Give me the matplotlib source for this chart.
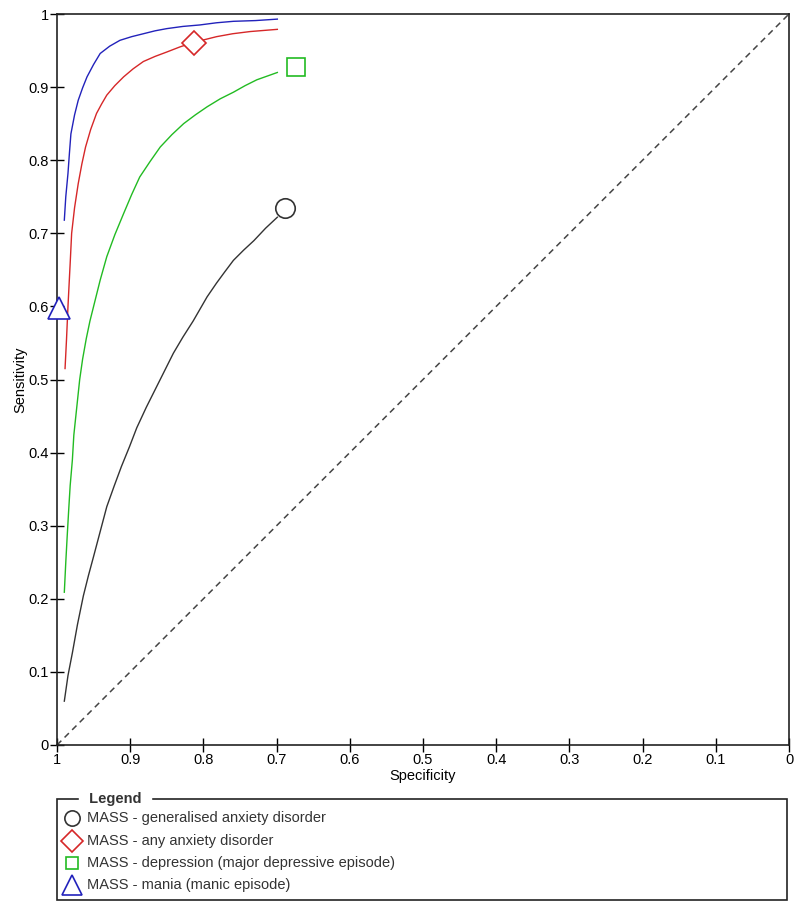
## SROC curves - MASS subscales
import numpy as np
import matplotlib.pyplot as plt
from matplotlib.patches import Rectangle
from matplotlib.lines import Line2D

plt.rcParams['font.family'] = ['Liberation Sans', 'DejaVu Sans']

# Curves (specificity, sensitivity)
gad_spec = [0.99, 0.985, 0.979, 0.972, 0.964, 0.957, 0.95, 0.941, 0.932, 0.922, 0.912, 0.901, 0.891,
            0.878, 0.864, 0.852, 0.841, 0.828, 0.814, 0.795, 0.782, 0.771, 0.759, 0.745, 0.731, 0.715, 0.699]
gad_sens = [0.06, 0.095, 0.126, 0.165, 0.204, 0.232, 0.258, 0.292, 0.326, 0.354, 0.381, 0.408, 0.434,
            0.462, 0.49, 0.514, 0.536, 0.558, 0.58, 0.613, 0.632, 0.647, 0.663, 0.677, 0.69, 0.707, 0.722]

anx_spec = [0.989, 0.987, 0.985, 0.982, 0.980, 0.976, 0.971, 0.966, 0.961, 0.954, 0.946, 0.939, 0.932,
            0.921, 0.909, 0.896, 0.882, 0.866, 0.850, 0.832, 0.814, 0.782, 0.760, 0.736, 0.699]
anx_sens = [0.515, 0.555, 0.600, 0.659, 0.700, 0.735, 0.768, 0.795, 0.818, 0.842, 0.864, 0.877, 0.889,
            0.902, 0.914, 0.925, 0.935, 0.942, 0.948, 0.955, 0.961, 0.969, 0.973, 0.976, 0.979]

dep_spec = [0.99, 0.988, 0.986, 0.984, 0.982, 0.979, 0.977, 0.973, 0.969, 0.965, 0.960, 0.955, 0.95,
            0.941, 0.932, 0.921, 0.909, 0.898, 0.887, 0.873, 0.859, 0.843, 0.827, 0.811, 0.795,
            0.777, 0.759, 0.743, 0.727, 0.713, 0.699]
dep_sens = [0.209, 0.250, 0.287, 0.322, 0.355, 0.390, 0.424, 0.462, 0.500, 0.528, 0.556, 0.580, 0.6,
            0.636, 0.668, 0.698, 0.727, 0.753, 0.777, 0.798, 0.818, 0.835, 0.850, 0.862, 0.873,
            0.884, 0.893, 0.902, 0.910, 0.915, 0.920]

man_spec = [0.99, 0.988, 0.985, 0.983, 0.981, 0.976, 0.971, 0.965, 0.959, 0.950, 0.941, 0.928, 0.914,
            0.898, 0.882, 0.866, 0.850, 0.828, 0.805, 0.782, 0.759, 0.729, 0.699]
man_sens = [0.718, 0.750, 0.782, 0.810, 0.836, 0.862, 0.882, 0.899, 0.914, 0.931, 0.946, 0.956, 0.964,
            0.969, 0.973, 0.977, 0.980, 0.983, 0.985, 0.988, 0.990, 0.991, 0.993]

# Summary points
pt_spec = [0.689, 0.813, 0.674, 0.997]
pt_sens = [0.734, 0.960, 0.928, 0.598]

labels = ['MASS - generalised anxiety disorder',
          'MASS - any anxiety disorder',
          'MASS - depression (major depressive episode)',
          'MASS - mania (manic episode)']
colors = ['#333333', '#d62728', '#22bb22', '#2222bb']
markers = ['o', 'D', 's', '^']
msizes = [14, 12, 12.5, 16]

fig = plt.figure(figsize=(8, 9.1), dpi=100)
ax = fig.add_axes([57/800, 1-745/910, 732/800, 731/910])

curves = [(gad_spec, gad_sens), (anx_spec, anx_sens), (dep_spec, dep_sens), (man_spec, man_sens)]
for (s, e), c in zip(curves, colors):
    ax.plot(s, e, color=c, lw=1)

for i in range(4):
    ax.plot(pt_spec[i], pt_sens[i], marker=markers[i], ms=msizes[i], mfc='white',
            mec=colors[i], mew=1.2, ls='none', clip_on=False, zorder=5)

ax.plot([1, 0], [0, 1], color='#444444', ls=(0, (4, 3)), lw=1.1)

ax.set_xlim(1, 0)
ax.set_ylim(0, 1)
ticks = np.round(np.arange(0, 1.01, 0.1), 1)
ax.set_xticks(ticks)
ax.set_yticks(ticks)
ax.set_xticklabels(['0' if t == 0 else ('1' if t == 1 else str(t)) for t in ticks])
ax.set_yticklabels(['0' if t == 0 else ('1' if t == 1 else str(t)) for t in ticks])
ax.tick_params(direction='inout', length=10, width=1, labelsize=10.5, pad=1)
for sp in ax.spines.values():
    sp.set_linewidth(1.2)
    sp.set_color('#222222')
ax.set_xlabel('Specificity', fontsize=10.5, labelpad=1)
ax.set_ylabel('Sensitivity', fontsize=10.5, labelpad=1)

# Legend box drawn in figure pixels
def fx(px):
    return px / 800
def fy(py):
    return 1 - py / 910

fig.patches.append(Rectangle((fx(57), fy(900)), fx(787) - fx(57), fy(799) - fy(900),
                             transform=fig.transFigure, fill=False, ec='#222222', lw=1.2))
fig.text(fx(85), fy(799), ' Legend ', fontsize=10.5, fontweight='bold', color='#333333',
         va='center', ha='left', backgroundcolor='white')
rows = [818, 841, 863, 885]
lsz = [11, 11, 9, 15]
for i, lab in enumerate(labels):
    fig.add_artist(Line2D([fx(72)], [fy(rows[i])], marker=markers[i], ms=lsz[i], mfc='white',
                          mec=colors[i], mew=1.2, ls='none', transform=fig.transFigure))
    fig.text(fx(87), fy(rows[i]), lab, fontsize=10.5, color='#333333', va='center', ha='left')

fig.savefig('out.png', dpi=100)
